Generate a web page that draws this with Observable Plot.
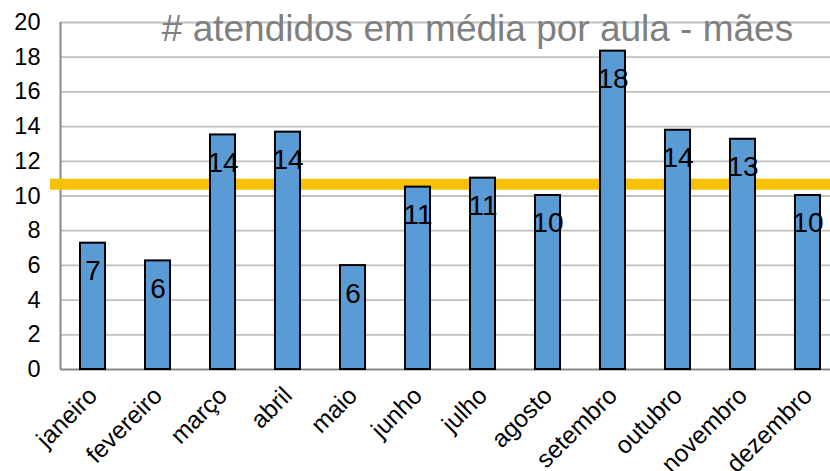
<!DOCTYPE html>
<html>
<head>
<meta charset="utf-8">
<script src="https://cdn.jsdelivr.net/npm/d3@7"></script>
<script src="https://cdn.jsdelivr.net/npm/@observablehq/plot@0.6"></script>
<style>
  html, body { margin: 0; padding: 0; background: white; overflow: hidden; }
  svg { overflow: hidden; }
</style>
</head>
<body>
<div id="chart"></div>
<script>
const months = ["janeiro", "fevereiro", "março", "abril", "maio", "junho", "julho", "agosto", "setembro", "outubro", "novembro", "dezembro"];
const values = [7.28, 6.26, 13.52, 13.68, 5.99, 10.51, 11.03, 10.03, 18.35, 13.79, 13.27, 10.03];
const labels = ["7", "6", "14", "14", "6", "11", "11", "10", "18", "14", "13", "10"];
const average = 10.68;
const yTicks = [0, 2, 4, 6, 8, 10, 12, 14, 16, 18, 20];
const title = "# atendidos em média por aula - mães";

const data = months.map((m, i) => ({month: m, value: values[i], label: labels[i]}));

const chart = Plot.plot({
  width: 830,
  height: 471,
  marginTop: 22,
  marginBottom: 102,
  marginLeft: 60,
  marginRight: 0,
  style: {fontFamily: "'Liberation Sans', Arial, sans-serif", fontSize: "23px", color: "black", background: "white", overflow: "hidden"},
  x: {domain: months, range: [60, 840], round: false, paddingInner: 0.615, paddingOuter: 0.3077, label: null},
  y: {domain: [0, 20], ticks: yTicks, label: null},
  marks: [
    Plot.ruleY(yTicks.filter(d => d > 0), {stroke: "#c0c0c0", strokeWidth: 1.8}),
    Plot.ruleY([0], {stroke: "#898989", strokeWidth: 2}),
    Plot.ruleX(months.slice(0, 1), {y1: 0, y2: 20, dx: -32.5, stroke: "#898989", strokeWidth: 2}),
    Plot.ruleY([average], {stroke: "#f5c100", strokeWidth: 11, insetLeft: -10}),
    Plot.barY(data, {x: "month", y: "value", fill: "#5b9bd5", stroke: "black", strokeWidth: 2}),
    Plot.text(data, {x: "month", y: "value", text: "label", dy: 28, fontSize: 28, fill: "black"}),
    Plot.text([title], {frameAnchor: "top", lineAnchor: "bottom", dx: 32, dy: 18, fontSize: 37, fill: "#7f7f7f"}),
    Plot.axisY(yTicks, {tickSize: 0, tickPadding: 20, fontSize: 23.5, label: null}),
    Plot.axisX({tickRotate: -45, tickSize: 0, tickPadding: 22, fontSize: 24.5, label: null})
  ]
});
document.getElementById("chart").appendChild(chart);
</script>
</body>
</html>
